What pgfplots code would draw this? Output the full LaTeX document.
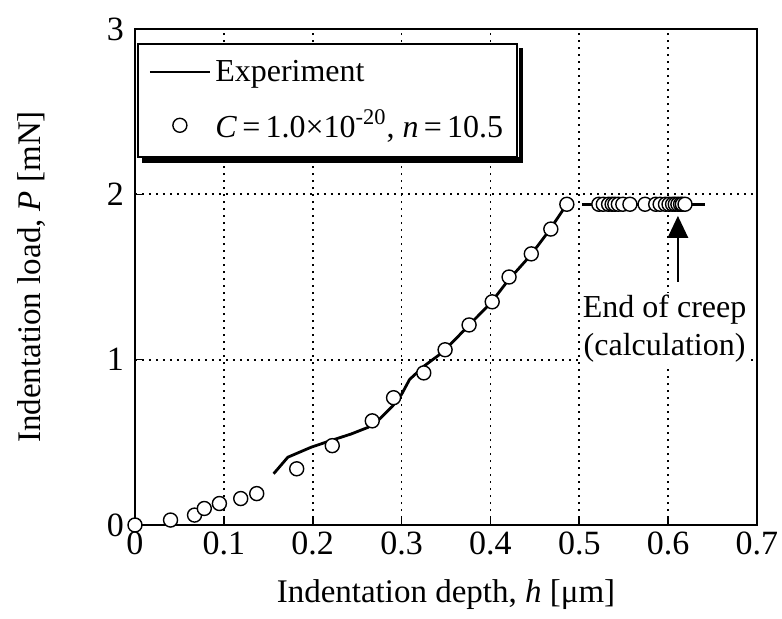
\documentclass[border=0pt]{standalone}
\usepackage{pgfplots}
\pgfplotsset{compat=1.18}
\usepackage{fontspec}
\setmainfont{Liberation Serif}
\usetikzlibrary{arrows.meta}

\pgfplotstableread{
h P
0.156 0.31
0.172 0.41
0.198 0.47
0.220 0.51
0.243 0.55
0.262 0.59
0.275 0.64
0.290 0.72
0.300 0.79
0.309 0.88
0.325 0.96
0.345 1.04
0.360 1.12
0.376 1.21
0.400 1.34
0.420 1.48
0.445 1.63
0.466 1.78
0.486 1.94
}\expload

\pgfplotstableread{
h P
0.503 1.94
0.642 1.94
}\expcreep

\pgfplotstableread{
h P
0.000 0.00
0.040 0.03
0.067 0.06
0.078 0.10
0.095 0.13
0.119 0.16
0.137 0.19
0.182 0.34
0.222 0.48
0.267 0.63
0.291 0.77
0.325 0.92
0.349 1.06
0.376 1.21
0.402 1.35
0.421 1.50
0.446 1.64
0.468 1.79
0.486 1.94
0.522 1.94
0.527 1.94
0.533 1.94
0.537 1.94
0.540 1.94
0.544 1.94
0.549 1.94
0.557 1.94
0.574 1.94
0.586 1.94
0.591 1.94
0.597 1.94
0.601 1.94
0.605 1.94
0.608 1.94
0.611 1.94
0.614 1.94
0.616 1.94
0.619 1.94
}\calc

\begin{document}
\begin{tikzpicture}[font=\fontsize{16}{19}\selectfont]
\path[use as bounding box] (-67.5pt,-46.5pt) rectangle (323.5pt,262.5pt);
\begin{axis}[
  scale only axis, width=311pt, height=248pt,
  xmin=0, xmax=0.7, ymin=0, ymax=3,
  xtick={0,0.1,0.2,0.3,0.4,0.5,0.6,0.7},
  ytick={0,1,2,3},
  /pgf/number format/assume math mode=true,
  tick label style={font=\fontsize{17}{20}\selectfont},
  yticklabel style={xshift=-2pt},
  tick pos=left, tick align=inside, major tick length=4pt,
  tick style={black, line width=0.8pt},
  axis line style={line width=0.9pt},
  grid=major,
  grid style={black, line width=0.9pt, dash pattern=on 0.9pt off 2.6pt},
  every axis y label/.style={at={(axis description cs:-0.167,0.5)}, rotate=90, anchor=center, font=\fontsize{16.5}{19}\selectfont},
  every axis x label/.style={at={(axis description cs:0.5,-0.14)}, anchor=center, font=\fontsize{16.5}{19}\selectfont},
  xlabel={Indentation depth, \textit{h} [μm]},
  ylabel={Indentation load, \textit{P} [mN]},
  legend image code/.code={\draw[mark repeat=2,mark phase=2,#1] plot coordinates {(0pt,0pt) (15pt,0pt) (30pt,0pt)};},
  legend style={at={(0.004,0.972)}, anchor=north west, draw=black, line width=1pt, fill=white,
    name=leg,
    inner xsep=5pt, inner ysep=6pt, row sep=9pt, font=\fontsize{16}{19}\selectfont,
    /tikz/every even column/.append style={column sep=3pt}},
  legend cell align=left,
]
\addplot[black, line width=1.4pt] table[x=h,y=P] {\expload};
\addlegendentry{Experiment}
\addplot[black, line width=1.4pt, forget plot] table[x=h,y=P] {\expcreep};
\addplot[only marks, mark=*, mark size=3.5pt, mark options={fill=white, draw=black, line width=0.7pt}] table[x=h,y=P] {\calc};
\addlegendentry{\textit{C}\,=\,1.0×10\textsuperscript{-20}, \textit{n}\,=\,10.5\hspace{12pt}}
\node[fill=white, inner sep=1pt, align=center, font=\fontsize{16}{19}\selectfont] at (axis cs:0.596,1.19) {End of creep\\(calculation)};
\draw[line width=1.4pt, -{Triangle[length=11pt,width=10pt]}] (axis cs:0.611,1.47) -- (axis cs:0.611,1.87);
\end{axis}
\fill[black] ([xshift=0.5pt,yshift=-2.5pt]leg.north east) rectangle ([xshift=2.5pt,yshift=-2.5pt]leg.south east);
\fill[black] ([xshift=2.5pt,yshift=0.5pt]leg.south west) rectangle ([xshift=2.5pt,yshift=-2.5pt]leg.south east);
\end{tikzpicture}
\end{document}
